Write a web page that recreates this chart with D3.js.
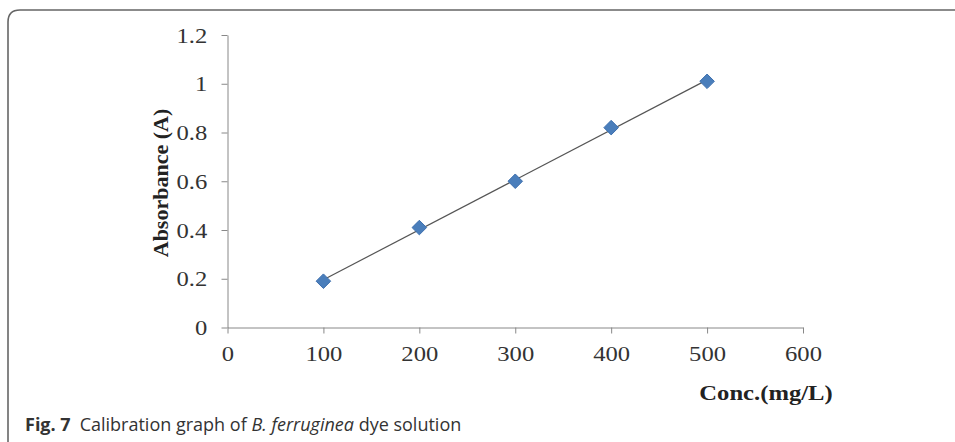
<!DOCTYPE html>
<html>
<head>
<meta charset="utf-8">
<script src="https://cdn.jsdelivr.net/npm/d3@7"></script>
<style>
  body { margin: 0; background: #fff; }
  svg { display: block; }
</style>
</head>
<body>
<svg id="chart" width="955" height="442"></svg>
<script>
// calibration points
const conc = [100, 200, 300, 400, 500];
const absorbance = [0.19, 0.41, 0.60, 0.82, 1.01];
const xTicks = [0, 100, 200, 300, 400, 500, 600];
const yTicks = [0, 0.2, 0.4, 0.6, 0.8, 1, 1.2];

const svg = d3.select("#chart");
const serif = "'Liberation Serif', 'Times New Roman', serif";
const stretch = 1.12; // the source image is a bit wider than tall

// rounded frame, open on the right and bottom
svg.append("path")
  .attr("d", "M8,460 L8,22 Q8,10 20,10 L960,10")
  .attr("fill", "none")
  .attr("stroke", "#666")
  .attr("stroke-width", 1.6);

const x = d3.scaleLinear().domain([0, 600]).range([227.5, 803]);
const y = d3.scaleLinear().domain([0, 1.2]).range([327.5, 35]);

const xAxis = svg.append("g")
  .attr("transform", `translate(0,${y(0)})`)
  .call(d3.axisBottom(x).tickValues(xTicks).tickSize(6).tickSizeOuter(0).tickPadding(12));
const yAxis = svg.append("g")
  .attr("transform", `translate(${x(0)},0)`)
  .call(d3.axisLeft(y).tickValues(yTicks).tickSize(6).tickSizeOuter(0).tickPadding(12)
    .tickFormat(d => d3.format("")(+d.toFixed(1))));

[xAxis, yAxis].forEach(g => {
  g.select(".domain").attr("stroke", "#888");
  g.selectAll(".tick line").attr("stroke", "#888");
  g.selectAll("text")
    .attr("font-family", serif)
    .attr("font-size", 22)
    .attr("fill", "#333")
    .attr("transform", `scale(${stretch},1)`);
});

// least squares trend line
const mx = d3.mean(conc), my = d3.mean(absorbance);
const slope = d3.sum(conc, (c, i) => (c - mx) * (absorbance[i] - my)) / d3.sum(conc, c => (c - mx) ** 2);
const icpt = my - slope * mx;
const x0 = d3.min(conc), x1 = d3.max(conc);
svg.append("line")
  .attr("x1", x(x0)).attr("y1", y(icpt + slope * x0))
  .attr("x2", x(x1)).attr("y2", y(icpt + slope * x1))
  .attr("stroke", "#555")
  .attr("stroke-width", 1.2);

svg.append("g")
  .selectAll("path")
  .data(conc)
  .enter()
  .append("path")
  .attr("transform", (d, i) => `translate(${x(d)},${y(absorbance[i])})`)
  .attr("d", d3.symbol(d3.symbolDiamond2, 135))
  .attr("fill", "#4a7ebb")
  .attr("stroke", "#3d6fae")
  .attr("stroke-width", 1);

svg.append("text")
  .attr("transform", `translate(168,183) rotate(-90)`)
  .attr("text-anchor", "middle")
  .attr("font-family", serif)
  .attr("font-weight", "bold")
  .attr("font-size", 22)
  .attr("fill", "#222")
  .text("Absorbance (A)");

svg.append("text")
  .attr("transform", `translate(766,400) scale(${stretch},1)`)
  .attr("text-anchor", "middle")
  .attr("font-family", serif)
  .attr("font-weight", "bold")
  .attr("font-size", 22)
  .attr("fill", "#222")
  .text("Conc.(mg/L)");

const cap = svg.append("text")
  .attr("x", 25).attr("y", 431)
  .attr("font-family", "'Open Sans', 'Noto Sans', sans-serif")
  .attr("font-size", 18)
  .attr("fill", "#333");
cap.append("tspan").attr("font-weight", "bold").text("Fig. 7");
cap.append("tspan").attr("dx", 9).text("Calibration graph of ");
cap.append("tspan").attr("font-style", "italic").text("B. ferruginea");
cap.append("tspan").text(" dye solution");
</script>
</body>
</html>
